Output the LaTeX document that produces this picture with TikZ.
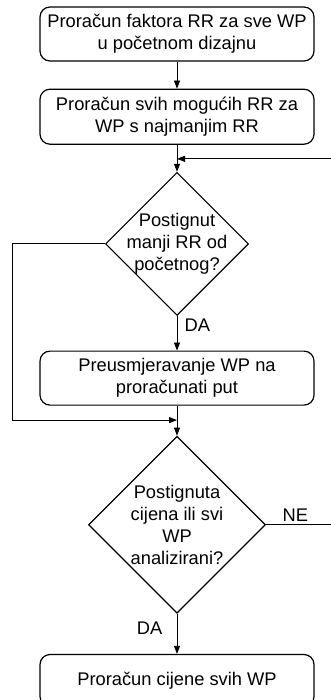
\documentclass[tikz,border=0pt]{standalone}
\usepackage{fontspec}
\setmainfont{Liberation Sans}
\usetikzlibrary{arrows.meta,positioning,shapes.geometric,calc}

\begin{document}
\begin{tikzpicture}[
  x=1pt, y=1pt,
  font=\fontsize{18.3}{22}\selectfont,
  box/.style={draw, line width=1.2pt, rounded corners=10pt, minimum width=274pt, minimum height=#1, align=center, inner sep=0pt},
  box/.default=54pt,
  decision/.style={draw, diamond, line width=1.2pt, inner sep=0pt, minimum width=#1, minimum height=#1},
  flow/.style={line width=0.8pt, -{Triangle[length=8pt,width=6pt]}},
  node distance=27pt
]
\useasboundingbox (0,0) rectangle (330,-700);

\node[box] (rrall) at (177,-34) {Proračun faktora RR za sve WP\\u početnom dizajnu};
\node[box=55pt, below=of rrall] (rrmin) {Proračun svih mogućih RR za\\WP s najmanjim RR};
\node[decision=143pt, below=of rrmin,
  label={[align=center]center:Postignut\\manji RR od\\početnog?}] (better) {};
\node[box, below=34.5pt of better] (reroute) {Preusmjeravanje WP na\\proračunati put};
\node[decision=177pt, below=30pt of reroute,
  label={[align=center]center:Postignuta\\cijena ili svi\\WP\\analizirani?}] (done) {};
\node[box=52pt, below=40pt of done] (cost) {Proračun cijene svih WP};

% join points of the two loops
\coordinate (loopin) at ($(rrmin.south)!0.52!(better.north)$);
\coordinate (skipin) at ($(reroute.south)!0.48!(done.north)$);

\draw[flow] (rrall) -- (rrmin);
\draw[flow] (rrmin) -- (better);
\draw[flow] (better) -- node[pos=0.27, right=4pt]{DA} (reroute);
\draw[flow] (reroute) -- (done);
\draw[flow] (done) -- node[pos=0.35, left=11pt]{DA} (cost);

\draw[flow] (better.west) -- ++(-93,0) |- (skipin);
\draw[flow] (done.east) -- node[pos=0.43, above]{NE} ++(68,0) |- (loopin);

\end{tikzpicture}
\end{document}
